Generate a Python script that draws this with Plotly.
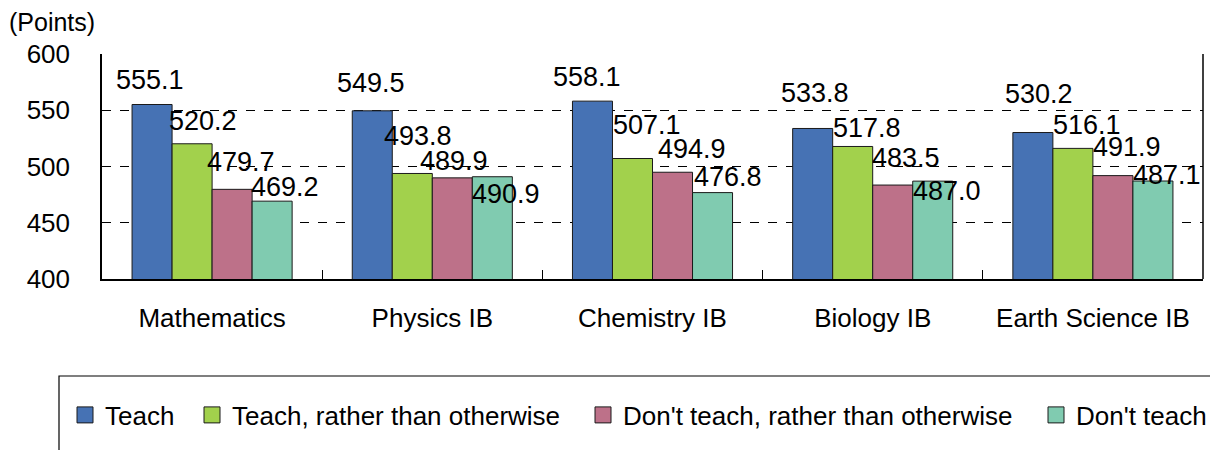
import plotly.graph_objects as go

categories = ["Mathematics", "Physics IB", "Chemistry IB", "Biology IB", "Earth Science IB"]
series_names = ["Teach", "Teach, rather than otherwise", "Don't teach, rather than otherwise", "Don't teach"]
teach = [555.1, 549.5, 558.1, 533.8, 530.2]
teach_rather = [520.2, 493.8, 507.1, 517.8, 516.1]
dont_teach_rather = [479.7, 489.9, 494.9, 483.5, 491.9]
dont_teach = [469.2, 490.9, 476.8, 487.0, 487.1]
y_ticks = [400, 450, 500, 550, 600]

series_values = [teach, teach_rather, dont_teach_rather, dont_teach]
colors = ["#4672B4", "#A2D14C", "#BD7189", "#80CBB0"]

# label nudges (pixels) relative to bar top-centre, per category then per series
LABEL_NUDGE = [
    [(-2, 25), (11, 23), (9, 27), (13, 14)],
    [(-1, 28), (6, 37), (2, 17), (14, -17)],
    [(-6, 24), (14, 34), (19, 23), (15, 16)],
    [(2, 35), (14, 18), (13, 27), (14, -10)],
    [(6, 39), (14, 23), (14, 29), (14, 6)],
]
SERIES_SHIFT = [-60, -20, 20, 60]

FONT = "Liberation Sans, Arial, sans-serif"

# page has an 8px body margin; figure coords = page coords - 8
OFF = 8
W, H = 1210, 442
L, R, T, B = 94, 15, 46, 171
PW, PH = W - L - R, H - T - B


def px(x):
    """page pixel x -> paper x"""
    return (x - OFF - L) / PW


def py(y):
    """page pixel y -> paper y"""
    return (H - B - (y - OFF)) / PH


fig = go.Figure()
legend_names = ["legend", "legend2", "legend3", "legend4"]
for i, (name, vals) in enumerate(zip(series_names, series_values)):
    fig.add_trace(go.Bar(
        x=categories, y=vals, name=name,
        marker=dict(color=colors[i], line=dict(color="#1a1a1a", width=1)),
        showlegend=False,
    ))
    fig.add_trace(go.Scatter(
        x=[None], y=[None], mode="markers", name=name,
        marker=dict(symbol="square", size=16, color=colors[i],
                    line=dict(color="#1a1a1a", width=1)),
        legend=legend_names[i], showlegend=True,
    ))

annotations = []
for i, vals in enumerate(series_values):
    for j, v in enumerate(vals):
        dx, dy = LABEL_NUDGE[j][i]
        annotations.append(dict(
            x=categories[j], y=v, xref="x", yref="y",
            text=f"{v:.1f}", showarrow=False,
            xanchor="center", yanchor="middle",
            xshift=SERIES_SHIFT[i] + dx, yshift=dy,
            font=dict(size=27, color="#000000", family=FONT),
        ))

annotations.append(dict(
    x=px(7), y=py(22), xref="paper", yref="paper",
    text="(Points)", showarrow=False, xanchor="left", yanchor="middle",
    font=dict(size=25, color="#000000", family=FONT),
))

legend_x = [65, 192, 583, 1036]
legend_common = dict(orientation="h", yanchor="middle", xanchor="left",
                     y=py(415), bgcolor="rgba(0,0,0,0)", borderwidth=0,
                     font=dict(size=26, color="#000000", family=FONT))
layout_legends = {}
for k, lname in enumerate(legend_names):
    layout_legends[lname] = dict(x=px(legend_x[k]), **legend_common)

fig.update_layout(
    width=W, height=H,
    margin=dict(l=L, r=R, t=T, b=B, autoexpand=False),
    paper_bgcolor="white", plot_bgcolor="white",
    barmode="group", bargap=0.273, bargroupgap=0,
    font=dict(family=FONT, size=26, color="#000000"),
    annotations=annotations,
    **layout_legends,
    xaxis=dict(
        type="category", tickson="boundaries", ticks="inside", ticklen=9,
        tickcolor="#000000", tickwidth=1,
        showline=True, linecolor="#000000", linewidth=1.5,
        showgrid=False, ticklabelstandoff=15,
        tickfont=dict(size=26, color="#000000", family=FONT),
    ),
    yaxis=dict(
        range=[400, 600], tickvals=y_ticks, ticks="",
        showline=True, linecolor="#000000", linewidth=1.5,
        showgrid=True, gridcolor="#000000", griddash="dash", gridwidth=1,
        zeroline=False, ticklabelstandoff=25,
        tickfont=dict(size=26, color="#000000", family=FONT),
    ),
    shapes=[
        dict(type="line", xref="paper", yref="paper", x0=1, x1=1, y0=0, y1=1,
             line=dict(color="#000000", width=1.5)),
        dict(type="rect", xref="paper", yref="paper",
             x0=px(59), x1=px(1240), y0=py(470), y1=py(376),
             line=dict(color="#000000", width=1.2), fillcolor="rgba(0,0,0,0)"),
    ],
)

fig.write_html("out.html")
